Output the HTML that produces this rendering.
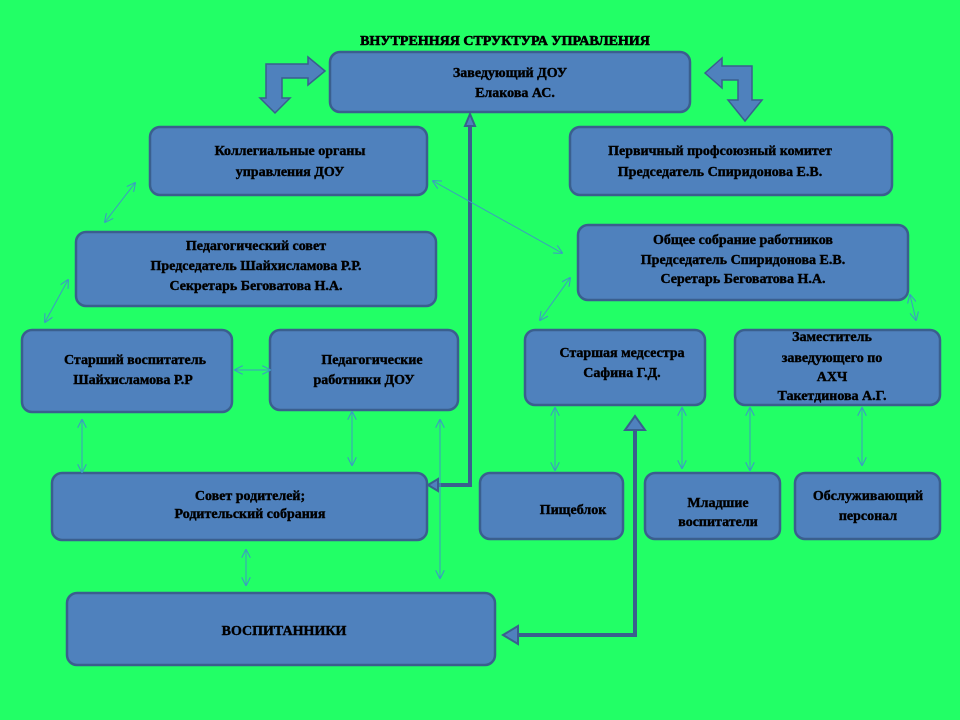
<!DOCTYPE html>
<html><head><meta charset="utf-8"><style>
html,body{margin:0;padding:0;background:#22ff66;}
svg{display:block}
text{font-family:"Liberation Serif",serif;font-weight:bold;fill:#000;stroke:#000;stroke-width:0.4;font-size:14px;text-anchor:middle}
</style></head><body>
<svg width="960" height="720" viewBox="0 0 960 720">
<defs>
<marker id="a" viewBox="0 0 10 10" refX="9" refY="5" markerWidth="9" markerHeight="9" orient="auto-start-reverse" markerUnits="userSpaceOnUse"><path d="M0,0 L10,5 L0,10" fill="none" stroke="#3d9bc2" stroke-width="1.2"/></marker>
</defs>
<rect width="960" height="720" fill="#22ff66"/>
<text x="505" y="45" font-size="16" style="stroke-width:0.6">ВНУТРЕННЯЯ СТРУКТУРА УПРАВЛЕНИЯ</text>
<g fill="#4f81bd" stroke="#3a5f8e" stroke-width="2.5">
<rect x="330" y="52" width="360" height="60" rx="10"/>
<rect x="150" y="127" width="277" height="68" rx="10"/>
<rect x="570" y="127" width="322" height="68" rx="10"/>
<rect x="76" y="232" width="360" height="74" rx="10"/>
<rect x="578" y="225" width="330" height="75" rx="10"/>
<rect x="22" y="330" width="210" height="82" rx="10"/>
<rect x="270" y="330" width="188" height="80" rx="10"/>
<rect x="525" y="330" width="180" height="75" rx="10"/>
<rect x="735" y="330" width="205" height="75" rx="10"/>
<rect x="52" y="473" width="375" height="67" rx="10"/>
<rect x="480" y="473" width="143" height="66" rx="10"/>
<rect x="645" y="473" width="135" height="66" rx="10"/>
<rect x="795" y="473" width="145" height="66" rx="10"/>
<rect x="67" y="593" width="428" height="72" rx="10"/>
<path d="M325,71 L308,57 L308,64 L266,64 L266,98 L260,98 L275,113 L290,98 L282,98 L282,78 L308,78 L308,85 Z" stroke-width="1.5"/>
<path d="M705,73 L722,58 L722,66 L752,66 L752,100 L762,100 L745,121 L728,100 L738,100 L738,80 L722,80 L722,88 Z" stroke-width="1.5"/>
</g>
<g fill="none" stroke="#3a5f8e" stroke-width="4">
<path d="M470,125 L470,485 L435,485"/>
<path d="M635,428 L635,635 L518,635"/>
</g>
<g fill="#4f81bd" stroke="#3a5f8e" stroke-width="2">
<path d="M470,114 L465,126 L475,126 Z"/>
<path d="M428,485 L438,479 L438,491 Z"/>
<path d="M635,416 L625,430 L645,430 Z"/>
<path d="M503,635 L518,626 L518,644 Z"/>
</g>
<g stroke="#3d9bc2" stroke-width="1" marker-start="url(#a)" marker-end="url(#a)">
<line x1="135" y1="183" x2="105" y2="222"/>
<line x1="68" y1="280" x2="45" y2="322"/>
<line x1="433" y1="181" x2="562" y2="253"/>
<line x1="570" y1="278" x2="540" y2="320"/>
<line x1="910" y1="295" x2="916" y2="320"/>
<line x1="235" y1="370" x2="270" y2="370"/>
<line x1="82" y1="420" x2="82" y2="472"/>
<line x1="352" y1="412" x2="352" y2="465"/>
<line x1="440" y1="420" x2="440" y2="578"/>
<line x1="246" y1="550" x2="246" y2="585"/>
<line x1="555" y1="408" x2="555" y2="470"/>
<line x1="682" y1="408" x2="682" y2="468"/>
<line x1="750" y1="408" x2="750" y2="470"/>
<line x1="862" y1="408" x2="862" y2="465"/>
</g>
<text x="510" y="77">Заведующий ДОУ</text>
<text x="515" y="97">Елакова АС.</text>
<text x="290" y="155">Коллегиальные органы</text>
<text x="290" y="176">управления ДОУ</text>
<text x="720" y="155">Первичный профсоюзный комитет</text>
<text x="720" y="176">Председатель Спиридонова Е.В.</text>
<text x="256" y="250">Педагогический совет</text>
<text x="256" y="270">Председатель Шайхисламова Р.Р.</text>
<text x="256" y="290">Секретарь Беговатова Н.А.</text>
<text x="743" y="244">Общее собрание работников</text>
<text x="743" y="264">Председатель Спиридонова Е.В.</text>
<text x="743" y="283">Серетарь Беговатова Н.А.</text>
<text x="135" y="364">Старший воспитатель</text>
<text x="133" y="384">Шайхисламова Р.Р</text>
<text x="372" y="364">Педагогические</text>
<text x="364" y="384">работники ДОУ</text>
<text x="622" y="357">Старшая медсестра</text>
<text x="622" y="377">Сафина Г.Д.</text>
<text x="832" y="341">Заместитель</text>
<text x="832" y="362">заведующего по</text>
<text x="832" y="381">АХЧ</text>
<text x="832" y="400">Такетдинова А.Г.</text>
<text x="250" y="500">Совет родителей;</text>
<text x="250" y="518">Родительский собрания</text>
<text x="573" y="514">Пищеблок</text>
<text x="718" y="507">Младшие</text>
<text x="718" y="526">воспитатели</text>
<text x="868" y="500">Обслуживающий</text>
<text x="868" y="520">персонал</text>
<text x="284" y="635">ВОСПИТАННИКИ</text>
</svg>
</body></html>
